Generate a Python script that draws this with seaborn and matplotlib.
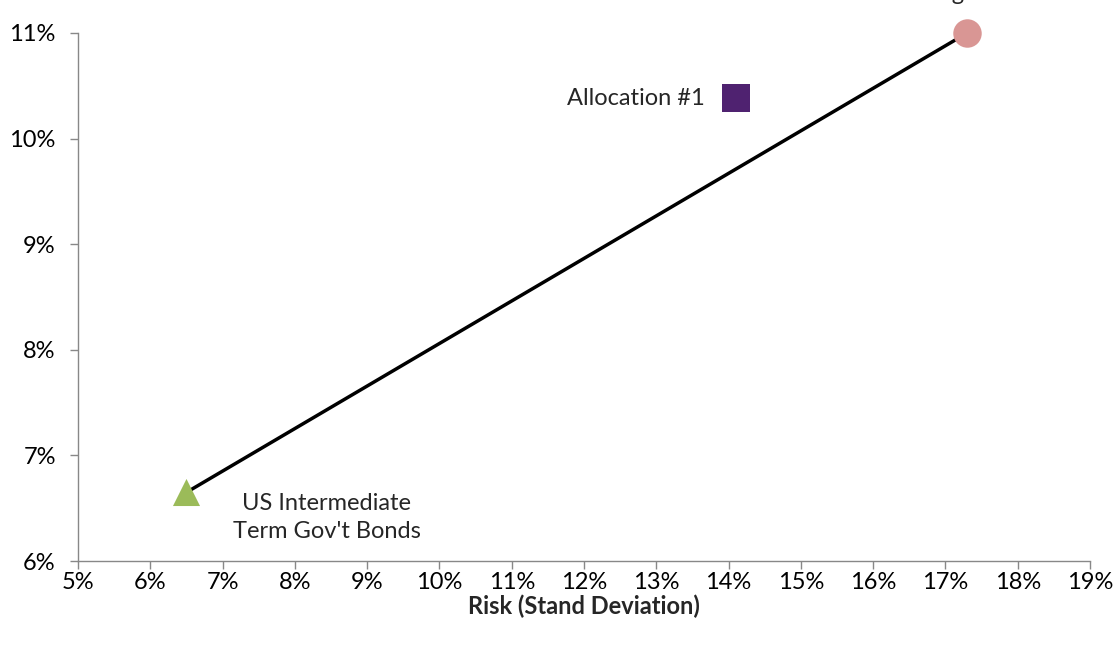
import matplotlib
matplotlib.use("Agg")
import matplotlib.pyplot as plt
import matplotlib.ticker as mtick
import pandas as pd
import seaborn as sns

# values (percent)
names = ["US Intermediate\nTerm Gov't Bonds", "Allocation #1", "US Large Stocks"]
risk = [6.5, 14.1, 17.3]
ret = [6.65, 10.38, 11.0]
markers = ["^", "s", "o"]
colors = ["#9BBB59", "#4F2270", "#D99694"]

# frontier line between bonds and stocks
line_risk = [risk[0], risk[2]]
line_ret = [ret[0], ret[2]]

sns.set_style("white")
plt.rcParams["font.family"] = ["Lato", "DejaVu Sans"]
FS = 17

fig = plt.figure(figsize=(11.16, 6.47), dpi=100)
ax = fig.add_axes([0.0699, 0.1329, 0.9068, 0.8161])

line_df = pd.DataFrame({"risk": line_risk, "ret": line_ret})
sns.lineplot(data=line_df, x="risk", y="ret", color="black", linewidth=2.5, ax=ax)

df = pd.DataFrame({"name": names, "risk": risk, "ret": ret})
for i, row in df.iterrows():
    sns.scatterplot(x=[row["risk"]], y=[row["ret"]], marker=markers[i], color=colors[i],
                    s=420 if markers[i] != "^" else 380, linewidth=0, ax=ax, zorder=5,
                    clip_on=False)

ax.set_xlim(5, 19)
ax.set_ylim(6, 11)
ax.set_xticks(range(5, 20))
ax.set_yticks(range(6, 12))
ax.xaxis.set_major_formatter(mtick.FuncFormatter(lambda v, p: f"{v:.0f}%"))
ax.yaxis.set_major_formatter(mtick.FuncFormatter(lambda v, p: f"{v:.0f}%"))
ax.tick_params(axis="both", labelsize=FS, labelcolor="black", color="#888888",
               length=6, width=1, direction="out", bottom=True, left=True)
ax.tick_params(axis="x", pad=2)
ax.tick_params(axis="y", pad=10)

for s in ["top", "right"]:
    ax.spines[s].set_visible(False)
for s in ["left", "bottom"]:
    ax.spines[s].set_color("#888888")
    ax.spines[s].set_linewidth(1)

ax.set_xlabel("Risk (Stand Deviation)", fontsize=FS, fontweight="bold", labelpad=1)
ax.set_ylabel("")

# point labels
ax.annotate(names[1], (risk[1], ret[1]), xytext=(-22, 0), textcoords="offset points",
            ha="right", va="center", fontsize=FS)
ax.annotate(names[0], (risk[0], ret[0]), xytext=(101, -18), textcoords="offset points",
            ha="center", va="center", fontsize=FS, linespacing=1.4)
ax.annotate(names[2], (risk[2], ret[2]), xytext=(0, 23.5), textcoords="offset points",
            ha="center", va="baseline", fontsize=FS, annotation_clip=False)

# y-axis title sits above the plot, clipped by the figure edge
fig.text(0.04, 1.0 + 5 / 647, "Return (Annual)", fontsize=FS, fontweight="bold",
         ha="left", va="baseline")

fig.savefig("out.png", dpi=100)
